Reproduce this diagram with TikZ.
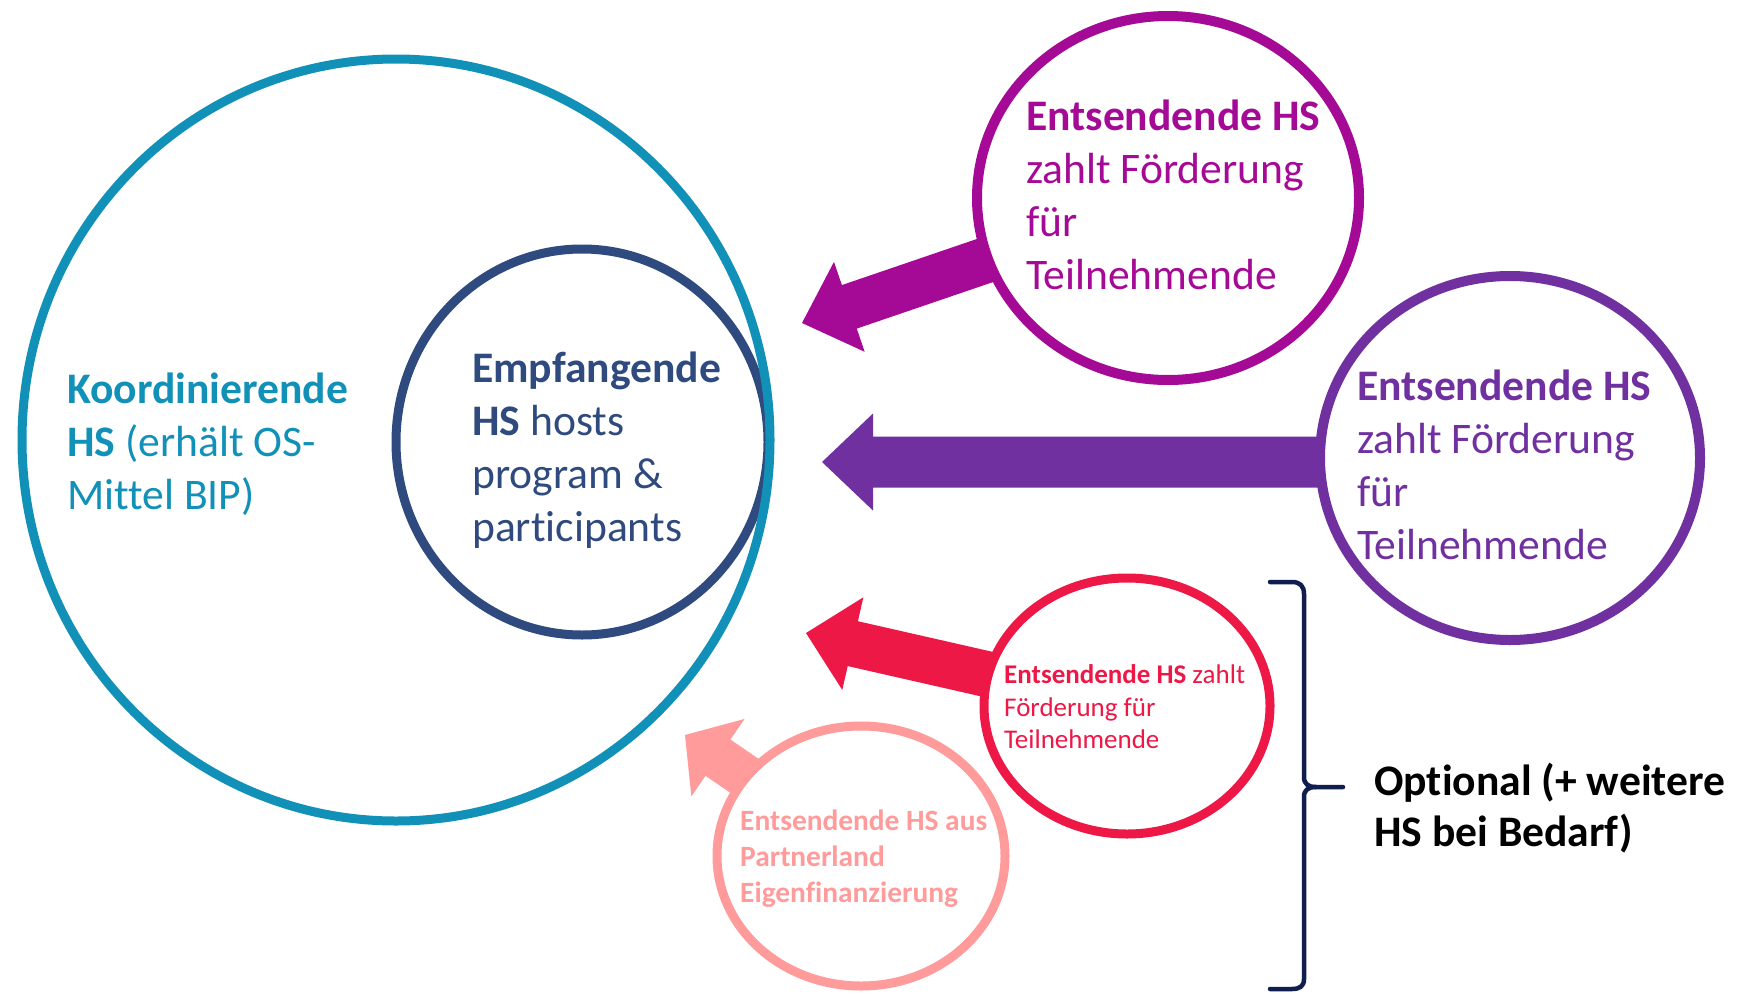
\documentclass[tikz,border=0pt]{standalone}
\usepackage{fontspec}
\setmainfont{Carlito}[Ligatures={NoCommon}]
\usetikzlibrary{shapes.geometric,calc,backgrounds}
\definecolor{tealA}{RGB}{17,145,184}
\definecolor{navyA}{RGB}{47,74,126}
\definecolor{magA}{RGB}{165,10,150}
\definecolor{purpA}{RGB}{112,48,160}
\definecolor{redA}{RGB}{237,24,70}
\definecolor{pinkA}{RGB}{255,155,155}
\definecolor{braceA}{RGB}{15,30,78}
\tikzset{
  ring/.style={ellipse, draw, fill=white, inner sep=0pt},
  txt/.style={anchor=west, align=left, inner sep=0pt},
  bigfont/.style={font=\fontsize{43.6}{53}\selectfont},
  bracepath/.style={draw=braceA, line width=4.5, line cap=round, line join=round},
}
% #1 start, #2 tip, #3 half shaft, #4 half head, #5 head length, #6 colour
\newcommand{\fatarrow}[6]{%
  \path ($(#2)!#5!(#1)$) coordinate (hb);
  \fill[#6] (#2) -- ($(hb)!#4!90:(#2)$) -- ($(hb)!#3!90:(#2)$) -- ($(#1)!#3!90:(#2)$)
     -- ($(#1)!#3!-90:(#2)$) -- ($(hb)!#3!-90:(#2)$) -- ($(hb)!#4!-90:(#2)$) -- cycle;
}
\begin{document}
\begin{tikzpicture}[x=1pt,y=-1pt]
\useasboundingbox (0,0) rectangle (1747,993);

% circles
\node[ring, draw=navyA, line width=9, minimum width=372, minimum height=386] (inner) at (582,442) {};
\node[ring, draw=tealA, line width=9, fill=none, minimum width=748, minimum height=762] (outer) at (396,440) {};
\node[ring, draw=magA, line width=10, minimum width=382, minimum height=364] (mag) at (1168,198) {};
\node[ring, draw=purpA, line width=10, minimum width=380, minimum height=364] (purp) at (1510,458) {};
\node[ring, draw=redA, line width=9, minimum width=286, minimum height=256] (red) at (1127,706) {};
\node[ring, draw=pinkA, line width=9, minimum width=288, minimum height=260] (pink) at (861,856) {};

% arrow tips
\coordinate (magtip) at (802,323);
\coordinate (purptip) at (822,462);
\coordinate (purpstart) at (1510,462);
\coordinate (redtip) at (806,633);
\coordinate (pinktip) at (685,735);

\begin{pgfonlayer}{background}
  \fill[white] (0,0) rectangle (1747,993);
  \fatarrow{mag.center}{magtip}{23pt}{47.5pt}{50pt}{magA}
  \fatarrow{purpstart}{purptip}{25.5pt}{48.5pt}{51pt}{purpA}
  \fatarrow{red.center}{redtip}{23pt}{47.5pt}{48pt}{redA}
  \fatarrow{pink.center}{pinktip}{22pt}{47pt}{40pt}{pinkA}
\end{pgfonlayer}

% texts
\node[txt, bigfont, text=tealA] (tkoord) at (67,444)
  {\textbf{Koordinierende}\\\textbf{HS} (erhält OS-\\Mittel BIP)};
\node[txt, bigfont, text=navyA] (tempf) at (472,450)
  {\textbf{Empfangende}\\\textbf{HS} hosts\\program \&\\participants};
\node[txt, bigfont, text=magA] (tmag) at (1026,195)
  {\textbf{Entsendende HS}\\zahlt Förderung\\für\\Teilnehmende};
\node[txt, bigfont, text=purpA] (tpurp) at (1357,465)
  {\textbf{Entsendende HS}\\zahlt Förderung\\für\\Teilnehmende};
\node[txt, font=\fontsize{27}{32.5}\selectfont, text=redA] (tred) at (1004,707)
  {\textbf{Entsendende HS} zahlt\\Förderung für\\Teilnehmende};
\node[txt, font=\fontsize{29.4}{36}\selectfont\bfseries, text=pinkA] (tpink) at (740,859)
  {Entsendende HS aus\\Partnerland\\Eigenfinanzierung};
\node[txt, font=\fontsize{43.6}{51}\selectfont\bfseries] (topt) at (1374,808)
  {Optional (+ weitere\\HS bei Bedarf)};

% brace
\path[bracepath] (1270,582) -- (1292,582) .. controls (1300,582) and (1304,586) .. (1304,594)
  -- (1304,777) .. controls (1304,784) and (1308,787) .. (1316,787) -- (1343,787);
\path[bracepath] (1316,787) .. controls (1308,787) and (1304,790) .. (1304,797)
  -- (1304,979) .. controls (1304,986) and (1300,989) .. (1292,989) -- (1270,989);
\end{tikzpicture}
\end{document}
